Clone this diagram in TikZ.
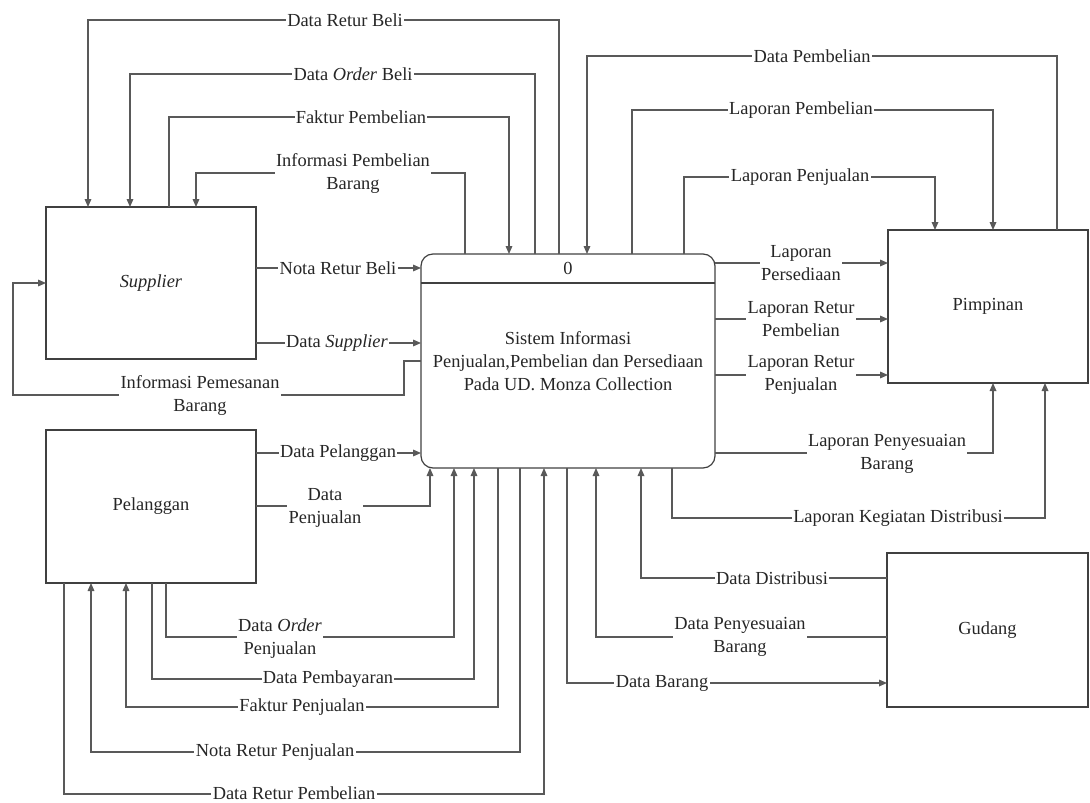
\documentclass[tikz,border=0pt]{standalone}
\usepackage{fontspec}
\setmainfont{Liberation Serif}
\usetikzlibrary{arrows.meta}
\begin{document}
\begin{tikzpicture}[x=0.75pt,y=-0.75pt,
  every node/.style={font=\fontsize{13.8}{17.25}\selectfont, text=black!85},
  box/.style={draw=black!75, line width=0.9pt, outer sep=0pt, inner sep=0pt},
  conn/.style={draw=black!65, line width=0.85pt},
  flow/.style={conn, -{Triangle[length=6pt,width=5pt]}},
  lbl/.style={fill=white, inner sep=1pt, align=center}]
\useasboundingbox (0,0) rectangle (1090,803);

% entities and process
\node[box, minimum width=157.5pt, minimum height=114pt] (sup) at (151,283) {\textit{Supplier}};
\node[box, minimum width=157.5pt, minimum height=114.75pt] (pel) at (151,506.5) {Pelanggan};
\node[box, rounded corners=9pt, minimum width=220.5pt, minimum height=160.5pt, align=center] (proc) at (568,361)
  {Sistem Informasi\\Penjualan,Pembelian dan Persediaan\\Pada UD. Monza Collection};
\node (proc0) at (568,268) {0};
\draw[conn, draw=black!75, line width=0.9pt] (proc.west |- 0,283) -- (proc.east |- 0,283);
\node[box, minimum width=150pt, minimum height=114.75pt] (pim) at (988,306.5) {Pimpinan};
\node[box, minimum width=150.75pt, minimum height=115.5pt] (gud) at (987.5,630) {Gudang};

% top: supplier <-> process
\draw[flow] (proc.north -| 559,0) |- (88,20) -- (sup.north -| 88,0);
\draw[flow] (proc.north -| 535,0) |- (130,74) -- (sup.north -| 130,0);
\draw[flow] (sup.north -| 169,0) |- (509,117) -- (proc.north -| 509,0);
\draw[flow] (proc.north -| 465,0) |- (196,173) -- (sup.north -| 196,0);
% top: process <-> pimpinan
\draw[flow] (pim.north -| 1057,0) |- (587,56) -- (proc.north -| 587,0);
\draw[flow] (proc.north -| 632,0) |- (993,110) -- (pim.north -| 993,0);
\draw[flow] (proc.north -| 684,0) |- (935,177) -- (pim.north -| 935,0);
% left side
\draw[flow] (sup.east |- 0,268) -- (proc.west |- 0,268);
\draw[flow] (sup.east |- 0,343) -- (proc.west |- 0,343);
\draw[flow] (proc.west |- 0,361) -| (404,395) -| (13,283) -- (sup.west |- 0,283);
\draw[flow] (pel.east |- 0,453) -- (proc.west |- 0,453);
\draw[flow] (pel.east |- 0,506) -| (proc.south -| 430,0);
% bottom: pelanggan <-> process
\draw[flow] (pel.south -| 166,0) |- (454,637) -- (proc.south -| 454,0);
\draw[flow] (pel.south -| 152,0) |- (474,679) -- (proc.south -| 474,0);
\draw[flow] (proc.south -| 498,0) |- (126,707) -- (pel.south -| 126,0);
\draw[flow] (proc.south -| 520,0) |- (91,752) -- (pel.south -| 91,0);
\draw[flow] (pel.south -| 64,0) |- (544,794) -- (proc.south -| 544,0);
% bottom: process <-> gudang / pimpinan
\draw[flow] (proc.south -| 567,0) |- (gud.west |- 0,683);
\draw[flow] (gud.west |- 0,637) -| (proc.south -| 596,0);
\draw[flow] (gud.west |- 0,578) -| (proc.south -| 641,0);
\draw[flow] (proc.south -| 672,0) |- (1045,518) -- (pim.south -| 1045,0);
% right side
\draw[flow] (proc.east |- 0,263) -- (pim.west |- 0,263);
\draw[flow] (proc.east |- 0,319) -- (pim.west |- 0,319);
\draw[flow] (proc.east |- 0,375) -- (pim.west |- 0,375);
\draw[flow] (proc.east |- 0,453) -| (pim.south -| 993,0);

% labels
\node[lbl] (l1) at (345,20) {Data Retur Beli};
\node[lbl] (l2) at (353,74) {Data \textit{Order} Beli};
\node[lbl] (l3) at (361,117) {Faktur Pembelian};
\node[lbl] (l4) at (353,173.5) {Informasi Pembelian\\Barang};
\node[lbl] (l5) at (812,56) {Data Pembelian};
\node[lbl] (l6) at (801,110) {Laporan Pembelian};
\node[lbl] (l7) at (800,177) {Laporan Penjualan};
\node[lbl] (l8) at (338,268) {Nota Retur Beli};
\node[lbl] (l9) at (337,343) {Data \textit{Supplier}};
\node[lbl] (l10) at (200,396) {Informasi Pemesanan\\Barang};
\node[lbl] (l11) at (338,453) {Data Pelanggan};
\node[lbl] (l12) at (325,508) {Data\\Penjualan};
\node[lbl] (l13) at (280,638.5) {Data \textit{Order}\\Penjualan};
\node[lbl] (l14) at (328,679) {Data Pembayaran};
\node[lbl] (l15) at (302,707) {Faktur Penjualan};
\node[lbl] (l16) at (275,752) {Nota Retur Penjualan};
\node[lbl] (l17) at (294,793.5) {Data Retur Pembelian};
\node[lbl] (l18) at (662,683) {Data Barang};
\node[lbl] (l19) at (740,637) {Data Penyesuaian\\Barang};
\node[lbl] (l20) at (772,578) {Data Distribusi};
\node[lbl] (l21) at (898,518) {Laporan Kegiatan Distribusi};
\node[lbl] (l22) at (801,263) {Laporan\\Persediaan};
\node[lbl] (l23) at (801,319) {Laporan Retur\\Pembelian};
\node[lbl] (l24) at (801,375) {Laporan Retur\\Penjualan};
\node[lbl] (l25) at (887,453.5) {Laporan Penyesuaian\\Barang};
\end{tikzpicture}
\end{document}
